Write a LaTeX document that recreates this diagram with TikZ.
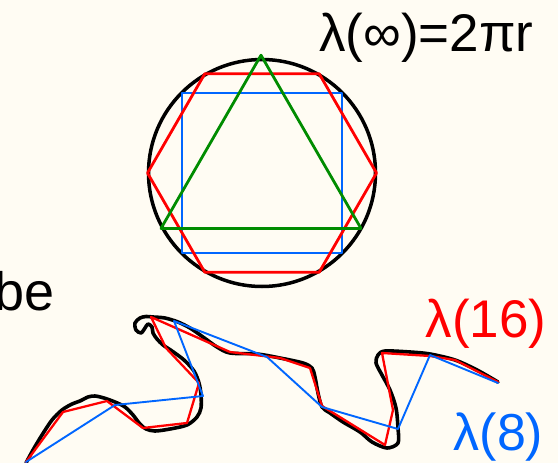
\documentclass[tikz,border=0pt]{standalone}
\usepackage{fontspec}
\setmainfont{Liberation Sans}
\usetikzlibrary{calc}
\definecolor{paper}{RGB}{255,252,243}
\definecolor{lblue}{RGB}{0,102,255}
\definecolor{lgreen}{RGB}{0,140,0}
\begin{document}
\begin{tikzpicture}[x=1pt, y=-1pt, line join=round, line cap=round,
		poly/.style={line width=2.8pt},
		lab/.style={anchor=base, inner sep=0pt}]
			\fill[paper] (0,0) rectangle (558,463);
			\useasboundingbox (0,0) rectangle (558,463);
			\coordinate (O) at (262,173);
			\coordinate (T) at (261,170.7);
			\draw[line width=3.5pt] (O) circle[radius=113.5pt];
			\draw[poly,lblue] ($(O)+(45:113)$)--($(O)+(135:113)$)--($(O)+(225:113)$)--($(O)+(315:113)$)--cycle;
			\draw[poly,red] ($(O)+(0:114.5)$) \foreach \a in {60,120,...,300}{--($(O)+(\a:114.5)$)}--cycle;
			\draw[poly,lgreen] ($(T)+(270:115.5)$)--($(T)+(30:115.5)$)--($(T)+(150:115.5)$)--cycle;
			\draw[line width=3.6pt] plot[smooth] coordinates {(26,463) (33,450) (42,435) (52,420) (62,410) (72,404) (80,401) (88,397) (95,396) (104,398) (115,402) (125,407) (133,415) (140,424) (146,429) (155,431) (170,429) (187,425) (197,417) (201,408) (201,395) (199,383) (194,371) (184,360) (172,351) (163,345) (157,339) (153,333) (152,327) (148,324) (145,328) (141,333) (136,330) (135,323) (140,318) (146,316.5) (153,317) (165,318) (178,322) (190,328) (203,337) (217,347) (230,353) (257,354) (280,358) (303,363) (312,368) (315,377) (318,393) (322,407) (330,413) (343,422) (360,432) (372,442) (387,448) (398,443) (398,428) (396,408) (390,390) (382,375) (376,363) (378,355) (385,351) (410,352) (430,354) (455,360) (477,370) (498,382)};
			\foreach \x\y\t in {26/462/r0,63/412/r1,107/401/r2,143/428/r3,187/423/r4,199/383/r5,166/348/r6,151/317/r7,230/352/r8,280/358/r9,310/368/r10,322/406/r11,385/445/r12,393/410/r13,382/353/r14,430/356/r15,455/360/r16,498/382/r17}
			\coordinate (\t) at (\x,\y);
			\foreach \x\y\t in {26/462/b0,115/405/b1,203/396/b2,174/321/b3,267/357/b4,322/407/b5,398/429/b6,430/355/b7,498/383/b8}
			\coordinate (\t) at (\x,\y);
			\draw[red,line width=2.3pt] (r0)--(r1)--(r2)--(r3)--(r4)--(r5)--(r6)--(r7)--(r8)--(r9)--(r10)--(r11)--(r12)--(r13)--(r14)--(r15)--(r16)--(r17);
			\draw[lblue,line width=1.9pt] (b0)--(b1)--(b2)--(b3)--(b4)--(b5)--(b6)--(b7)--(b8);
			\node[lab,font=\fontsize{53}{53}\selectfont] (linf) at (426.5,52) {λ(∞)=2πr};
			\node[lab,anchor=base east,font=\fontsize{54}{54}\selectfont] (be) at (55,310) {be};
			\node[lab,red,font=\fontsize{53}{53}\selectfont] (l16) at (486,337) {λ(16)};
			\node[lab,lblue,font=\fontsize{52}{52}\selectfont] (l8) at (498.5,450) {λ(8)};
		\end{tikzpicture}
\end{document}
